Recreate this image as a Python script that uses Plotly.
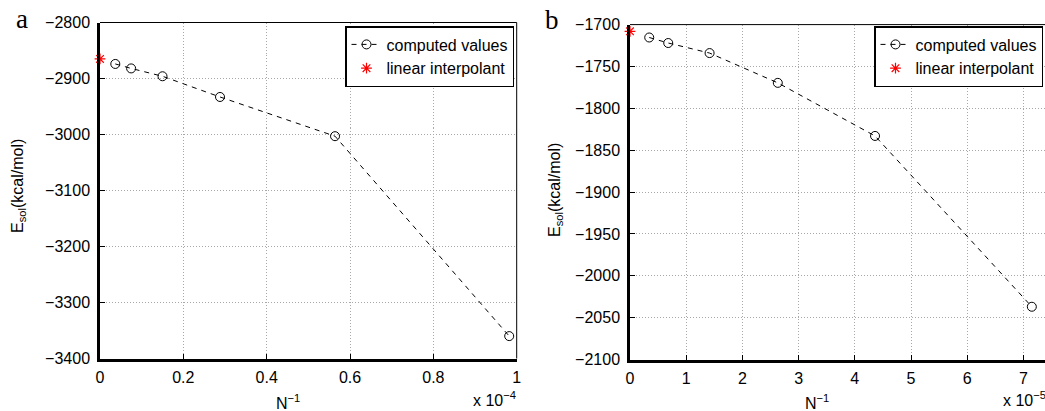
import plotly.graph_objects as go

# ---------------- data ----------------
# panel a  (x in units of 1e-4)
xa_computed = [0.0367, 0.0747, 0.150, 0.288, 0.564, 0.982]
ya_computed = [-2874, -2882, -2896, -2933, -3003, -3360]
xa_interp = [0.0]
ya_interp = [-2865]
xa_ticks = [0, 0.2, 0.4, 0.6, 0.8, 1]
xa_ticklabels = ["0", "0.2", "0.4", "0.6", "0.8", "1"]
ya_ticks = [-3400, -3300, -3200, -3100, -3000, -2900, -2800]

# panel b  (x in units of 1e-5)
xb_computed = [0.342, 0.68, 1.416, 2.63, 4.36, 7.15]
yb_computed = [-1715.4, -1722, -1734, -1769.6, -1833, -2037]
xb_interp = [0.0]
yb_interp = [-1708]
xb_ticks = [0, 1, 2, 3, 4, 5, 6, 7, 8]
xb_ticklabels = ["0", "1", "2", "3", "4", "5", "6", "7", "8"]
yb_ticks = [-2100, -2050, -2000, -1950, -1900, -1850, -1800, -1750, -1700]

W, H = 1045, 411
FONT = "Liberation Sans, Arial, sans-serif"


def px(x):
    return x / W


def py(y):
    return 1 - y / H


fig = go.Figure()

line_style = dict(color="black", width=1, dash="5px,5px")
circ = dict(symbol="circle-open", size=9, color="black", line=dict(color="black", width=1))
star = dict(symbol="asterisk-open", size=9, color="red", line=dict(color="red", width=1.2))

fig.add_trace(go.Scatter(x=xa_computed, y=ya_computed, mode="lines+markers", name="computed values",
                         line=line_style, marker=circ, xaxis="x", yaxis="y", legend="legend",
                         cliponaxis=False))
fig.add_trace(go.Scatter(x=xa_interp, y=ya_interp, mode="markers", name="linear interpolant",
                         marker=star, xaxis="x", yaxis="y", legend="legend", cliponaxis=False))
fig.add_trace(go.Scatter(x=xb_computed, y=yb_computed, mode="lines+markers", name="computed values",
                         line=line_style, marker=circ, xaxis="x2", yaxis="y2", legend="legend2",
                         cliponaxis=False))
fig.add_trace(go.Scatter(x=xb_interp, y=yb_interp, mode="markers", name="linear interpolant",
                         marker=star, xaxis="x2", yaxis="y2", legend="legend2", cliponaxis=False))

# geometry (pixels)
a_left, a_right, a_top, a_bot = 100, 516.7, 22.5, 358.5
b_left, b_right, b_top, b_bot = 630, 1045, 24.6, 359.5
b_xmax = (b_right - b_left) / 56.2

axis_common = dict(showline=True, linecolor="black", linewidth=2.5, mirror=False,
                   ticks="inside", ticklen=5, tickwidth=1, tickcolor="black",
                   showgrid=True, gridcolor="#a8a8a8", gridwidth=1, griddash="1px,2px",
                   zeroline=False, automargin=False,
                   tickfont=dict(size=16, color="black", family=FONT))

fig.update_layout(
    template="none",
    width=W, height=H, autosize=False,
    margin=dict(l=0, r=0, t=0, b=0, pad=0),
    paper_bgcolor="white", plot_bgcolor="white",
    font=dict(family=FONT, size=16, color="black"),
    xaxis=dict(domain=[px(a_left), px(a_right)], range=[0, 1], tickvals=xa_ticks,
               ticktext=xa_ticklabels, anchor="y", ticklabelstandoff=3, **axis_common),
    yaxis=dict(domain=[py(a_bot), py(a_top)], range=[-3400, -2800], tickvals=ya_ticks,
               anchor="x", ticklabelstandoff=4, **axis_common),
    xaxis2=dict(domain=[px(b_left), px(b_right)], range=[0, b_xmax], tickvals=xb_ticks,
                ticktext=xb_ticklabels, anchor="y2", ticklabelstandoff=3, **axis_common),
    yaxis2=dict(domain=[py(b_bot), py(b_top)], range=[-2100, -1700], tickvals=yb_ticks,
                anchor="x2", ticklabelstandoff=4, **axis_common),
    legend=dict(x=px(514), xanchor="right", y=py(26), yanchor="top", bgcolor="white",
                bordercolor="black", borderwidth=1.5, font=dict(size=16, family=FONT),
                tracegroupgap=0),
    legend2=dict(x=px(1043), xanchor="right", y=py(26), yanchor="top", bgcolor="white",
                 bordercolor="black", borderwidth=1.5, font=dict(size=16, family=FONT),
                 tracegroupgap=0),
    showlegend=True,
)

# thin top/right frame lines
fig.add_shape(type="line", xref="x domain", yref="y domain", x0=0, x1=1, y0=1, y1=1,
              line=dict(color="black", width=1))
fig.add_shape(type="line", xref="x domain", yref="y domain", x0=1, x1=1, y0=0, y1=1,
              line=dict(color="black", width=1))
fig.add_shape(type="line", xref="x2 domain", yref="y2 domain", x0=0, x1=1, y0=1, y1=1,
              line=dict(color="black", width=1))


def note(text, x, y, xanchor="center", yanchor="middle", **kw):
    return dict(text=text, x=px(x), y=py(y), xref="paper", yref="paper", showarrow=False,
                xanchor=xanchor, yanchor=yanchor, **kw)


serif = dict(family="Liberation Serif, Times New Roman, serif", size=27, color="black")
ann = [
    note("a", 21.5, 19, font=serif),
    note("b", 552, 20, font=serif),
    note("E<sub>sol</sub>(kcal/mol)", 18, 186, textangle=-90, font=dict(size=16)),
    note("E<sub>sol</sub>(kcal/mol)", 555, 190, textangle=-90, font=dict(size=16)),
    note("N<sup>−1</sup>", 288, 402, font=dict(size=16)),
    note("N<sup>−1</sup>", 817, 402, font=dict(size=16)),
    note("x 10<sup>−4</sup>", 518, 399, xanchor="right", font=dict(size=16)),
    note("x 10<sup>−5</sup>", 1001, 399, xanchor="left", font=dict(size=16)),
]
fig.update_layout(annotations=ann)

fig.write_html("out.html", include_plotlyjs=True, config={"displayModeBar": False},
               post_script="document.body.style.margin='0';document.body.style.overflow='hidden';")
